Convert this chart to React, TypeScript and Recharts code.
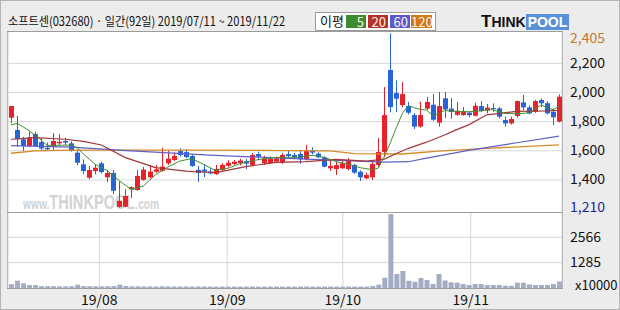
import { ComposedChart, Bar, Line, XAxis, YAxis, CartesianGrid } from "recharts";

// daily candles, 2019/07/11 ~ 2019/11/22 (92 sessions)
const OPEN = [
  1827, 1743, 1679, 1633, 1715, 1660, 1620, 1628, 1651, 1667, 1651, 1587, 1507, 1415, 1461, 1514,
  1418, 1448, 1215, 1216, 1336, 1331, 1400, 1418, 1456, 1463, 1514, 1537, 1598, 1591, 1564, 1469,
  1471, 1457, 1440, 1468, 1497, 1509, 1516, 1529, 1503, 1578, 1514, 1516, 1526, 1520, 1578, 1571,
  1578, 1542, 1600, 1581, 1554, 1480, 1475, 1480, 1475, 1503, 1456, 1411, 1418, 1503, 1592, 2154,
  1996, 1914, 1907, 1845, 1766, 1889, 1916, 1793, 1960, 1889, 1847, 1845, 1862, 1840, 1907, 1880,
  1893, 1891, 1811, 1788, 1839, 1932, 1898, 1868, 1948, 1926, 1868, 1800,
];
const HIGH = [
  1907, 1839, 1696, 1729, 1731, 1688, 1657, 1722, 1714, 1691, 1665, 1605, 1541, 1495, 1507, 1525,
  1468, 1468, 1390, 1336, 1355, 1470, 1490, 1503, 1503, 1622, 1600, 1590, 1617, 1610, 1575, 1496,
  1510, 1480, 1503, 1515, 1535, 1537, 1545, 1545, 1583, 1594, 1566, 1560, 1560, 1583, 1600, 1585,
  1600, 1640, 1623, 1590, 1562, 1537, 1525, 1530, 1551, 1510, 1465, 1450, 1523, 1688, 2038, 2405,
  2083, 2073, 1935, 1860, 1938, 1969, 1990, 2003, 2003, 1962, 1935, 1900, 1870, 1930, 1941, 1921,
  1926, 1900, 1834, 1834, 1945, 1983, 1912, 1948, 1960, 1940, 1890, 1987,
];
const LOW = [
  1790, 1628, 1600, 1626, 1626, 1604, 1600, 1598, 1640, 1640, 1595, 1502, 1439, 1405, 1439, 1445,
  1386, 1303, 1210, 1212, 1276, 1325, 1395, 1410, 1450, 1456, 1503, 1530, 1560, 1550, 1490, 1387,
  1420, 1438, 1435, 1460, 1490, 1503, 1500, 1475, 1495, 1537, 1503, 1510, 1515, 1510, 1555, 1550,
  1510, 1535, 1575, 1550, 1487, 1463, 1434, 1475, 1465, 1440, 1393, 1405, 1400, 1488, 1557, 1865,
  1866, 1898, 1850, 1750, 1760, 1880, 1805, 1765, 1825, 1820, 1840, 1840, 1830, 1836, 1865, 1857,
  1868, 1823, 1765, 1780, 1827, 1880, 1850, 1860, 1900, 1850, 1777, 1795,
];
const CLOSE = [
  1907, 1679, 1633, 1692, 1633, 1616, 1610, 1667, 1662, 1656, 1600, 1518, 1461, 1468, 1484, 1454,
  1448, 1326, 1257, 1290, 1350, 1428, 1471, 1457, 1473, 1491, 1546, 1564, 1571, 1557, 1496, 1448,
  1458, 1445, 1475, 1503, 1518, 1525, 1533, 1512, 1571, 1560, 1548, 1546, 1547, 1571, 1564, 1555,
  1542, 1598, 1587, 1555, 1491, 1496, 1502, 1514, 1537, 1450, 1418, 1434, 1509, 1592, 1845, 1900,
  1957, 1989, 1861, 1766, 1845, 1935, 1813, 1907, 1884, 1866, 1875, 1870, 1844, 1909, 1873, 1896,
  1888, 1834, 1788, 1818, 1941, 1898, 1857, 1941, 1926, 1857, 1830, 1971,
];
// volume, x10000 shares
const VOLUME = [
  200, 370, 236, 150, 150, 95, 90, 90, 85, 85, 90, 170, 95, 90, 85, 85,
  90, 95, 170, 100, 85, 85, 80, 80, 75, 85, 80, 75, 75, 75, 75, 80,
  75, 70, 70, 70, 70, 70, 70, 70, 75, 70, 70, 70, 70, 70, 70, 70,
  70, 75, 70, 70, 70, 70, 70, 70, 75, 70, 70, 70, 100, 168, 520, 3745,
  708, 860, 370, 320, 506, 405, 200, 708, 380, 287, 270, 200, 150, 200, 200, 150,
  150, 150, 118, 118, 270, 270, 180, 150, 150, 150, 200, 330,
];

// moving averages read at [session index, price]
const MA5: [number, number][] = [
  [0, 1777], [1, 1788], [2, 1765], [4, 1709], [6, 1637], [8, 1638], [10, 1639], [11, 1621],
  [12, 1579], [14, 1506], [16, 1463], [18, 1394], [20, 1334], [22, 1359], [24, 1436], [26, 1488],
  [28, 1529], [30, 1547], [32, 1506], [34, 1464], [36, 1480], [38, 1511], [40, 1532], [42, 1545],
  [44, 1554], [46, 1555], [48, 1556], [50, 1569], [52, 1555], [54, 1526], [56, 1508], [58, 1484],
  [60, 1470], [61, 1481], [62, 1560], [63, 1656], [64, 1761], [65, 1857], [66, 1910], [67, 1895],
  [68, 1884], [69, 1879], [70, 1844], [71, 1853], [72, 1877], [74, 1869], [76, 1868], [78, 1874],
  [80, 1882], [82, 1856], [84, 1854], [86, 1860], [88, 1913], [90, 1882], [91, 1905],
];
const MA20: [number, number][] = [
  [0, 1679], [4, 1690], [9, 1679], [12, 1665], [15, 1640], [19, 1553], [24, 1485], [29, 1461],
  [34, 1450], [39, 1491], [44, 1521], [49, 1526], [54, 1541], [59, 1529], [62, 1543], [64, 1581],
  [66, 1617], [69, 1659], [72, 1708], [74, 1745], [76, 1778], [79, 1847], [84, 1870], [89, 1874],
  [91, 1878],
];
const MA60: [number, number][] = [
  [0, 1635], [10, 1625], [20, 1600], [33, 1570], [48, 1545], [62, 1522], [66, 1525], [69, 1550],
  [76, 1603], [84, 1655], [91, 1700],
];
const MA120: [number, number][] = [
  [0, 1583], [4, 1600], [10, 1605], [30, 1605], [53, 1600], [57, 1580], [65, 1578], [71, 1598],
  [79, 1617], [91, 1640],
];

const MONTH_STARTS = [15, 36, 55, 76];
const MONTH_LABELS = ["19/08", "19/09", "19/10", "19/11"];
const PRICE_TICKS = [1400, 1600, 1800, 2000, 2200];
const PRICE_MAX = 2405;
const PRICE_MIN = 1210;
const VOLUME_TICKS = [1285, 2566];

const LEGEND = [
  { label: "5", color: "#3d8b2f" },
  { label: "20", color: "#b8302c" },
  { label: "60", color: "#5d57d2" },
  { label: "120", color: "#d0781a" },
];

const UP = "#e8222a";
const DOWN = "#2764d8";
const FONT = "'Noto Sans CJK KR', sans-serif";

type Row = Record<string, any>;

const rows: Row[] = CLOSE.map((close, i) => ({
  i,
  open: OPEN[i],
  high: HIGH[i],
  low: LOW[i],
  close,
  range: [LOW[i], HIGH[i]],
  vol: VOLUME[i],
  ma5: null,
  ma20: null,
  ma60: null,
  ma120: null,
}));
MA5.forEach(([i, v]) => (rows[i].ma5 = v));
MA20.forEach(([i, v]) => (rows[i].ma20 = v));
MA60.forEach(([i, v]) => (rows[i].ma60 = v));
MA120.forEach(([i, v]) => (rows[i].ma120 = v));

function Candle(props: any) {
  const { x, y, width, height, payload } = props;
  if (!payload || x == null) return null;
  const { open, high, low, close } = payload;
  const top = Math.min(y, y + height);
  const h = Math.abs(height);
  const k = high === low ? 0 : h / (high - low);
  const bodyTop = top + (high - Math.max(open, close)) * k;
  const bodyH = Math.max(1, Math.abs(close - open) * k);
  const color = close >= open ? UP : DOWN;
  const cx = Math.floor(x + width / 2);
  return (
    <g>
      <rect x={cx} y={top} width={1} height={Math.max(1, h)} fill={color} />
      <rect x={Math.round(x)} y={bodyTop} width={Math.round(width)} height={bodyH} fill={color} />
    </g>
  );
}

function PriceTick(props: any) {
  const { x, y, payload } = props;
  const v = payload.value;
  let color = "#111";
  let dy = 4.5;
  if (v === PRICE_MAX) {
    color = "#c8782c";
    dy = 9.5;
  }
  if (v === PRICE_MIN) color = "#1d2a94";
  return (
    <text x={x + 8} y={y + dy} fill={color} fontSize={14} fontFamily={FONT}>
      {v.toLocaleString("en-US")}
    </text>
  );
}

function VolumeTick(props: any) {
  const { x, y, payload } = props;
  const v = payload.value;
  return (
    <text
      x={x + (v === 0 ? 13 : 8)}
      y={y + (v === 0 ? 1.5 : 4.5)}
      fill="#111"
      fontSize={v === 0 ? 13 : 14}
      fontFamily={FONT}
    >
      {v === 0 ? "x10000" : String(v)}
    </text>
  );
}

// month labels sit just under the volume panel (chart-local baseline)
function MonthTick(props: any) {
  const { x, index } = props;
  return (
    <text x={x} y={99} textAnchor="middle" fill="#111" fontSize={14} fontFamily={FONT}>
      {MONTH_LABELS[index]}
    </text>
  );
}

export default function App() {
  return (
    <div
      style={{
        position: "absolute",
        left: 0,
        top: 0,
        width: 620,
        height: 310,
        background: "#ececec",
        boxShadow: "inset 0 0 0 1px #b4b4b4",
        overflow: "hidden",
        fontFamily: FONT,
        color: "#111",
      }}
    >
      <div
        style={{
          position: "absolute",
          left: 8,
          top: 13,
          fontSize: 12.5,
          lineHeight: "16px",
          whiteSpace: "nowrap",
          transform: "scaleX(0.89)",
          transformOrigin: "0 0",
        }}
      >
        소프트센(032680) · 일간(92일) 2019/07/11 ~ 2019/11/22
      </div>

      <div
        style={{
          position: "absolute",
          left: 315,
          top: 12,
          width: 121,
          height: 19,
          background: "#fff",
          border: "1px solid #9a9a9a",
          boxSizing: "border-box",
        }}
      />
      <div style={{ position: "absolute", left: 320, top: 13, fontSize: 13, lineHeight: "16px" }}>이평</div>
      {LEGEND.map((item, n) => (
        <div
          key={item.label}
          style={{
            position: "absolute",
            left: [346, 368, 390, 411][n],
            top: 15,
            width: [20, 20, 20, 21][n],
            height: 13,
            background: item.color,
            color: "#fff8e0",
            fontSize: 13,
            lineHeight: "13px",
            textAlign: "right",
            paddingRight: 2,
            boxSizing: "border-box",
          }}
        >
          {item.label}
        </div>
      ))}

      <div style={{ position: "absolute", left: 481, top: 12, whiteSpace: "nowrap", fontFamily: "'Liberation Sans', sans-serif", fontWeight: 900 }}>
        <span style={{ fontSize: 17, color: "#111" }}>T</span>
        <span style={{ fontSize: 14, color: "#111" }}>HINK</span>
        <span style={{ fontSize: 14, color: "#fff", background: "#5a8fd9", padding: "0 2px" }}>POOL</span>
      </div>

      <div
        style={{
          position: "absolute",
          left: 7,
          top: 31,
          width: 556,
          height: 258,
          background: "#fff",
          border: "1px solid #9c9c9c",
          boxSizing: "border-box",
        }}
      />
      <div
        style={{
          position: "absolute",
          left: 23,
          top: 191,
          whiteSpace: "nowrap",
          color: "#d2d2d2",
          fontFamily: "'Liberation Sans', sans-serif",
          fontWeight: 700,
          transform: "scaleX(0.73)",
          transformOrigin: "0 0",
        }}
      >
        <span style={{ fontSize: 14 }}>www.</span>
        <span style={{ fontSize: 20 }}>THINKPOOL</span>
        <span style={{ fontSize: 14 }}>.com</span>
      </div>

      <div style={{ position: "absolute", left: 0, top: 0 }}>
        <ComposedChart width={620} height={215} data={rows} margin={{ top: 32, right: 0, bottom: 3, left: 8 }}>
          <CartesianGrid xAxisId="g" stroke="#d6d6d6" horizontalValues={PRICE_TICKS} />
          <XAxis dataKey="i" hide />
          <XAxis
            xAxisId="g"
            type="number"
            domain={[0, 92]}
            allowDataOverflow
            ticks={MONTH_STARTS}
            height={0}
            tick={false}
            axisLine={false}
            tickLine={false}
          />
          <YAxis
            orientation="right"
            width={58}
            type="number"
            domain={[1180, 2415]}
            allowDataOverflow
            ticks={[PRICE_MIN, ...PRICE_TICKS, PRICE_MAX]}
            interval={0}
            tick={<PriceTick />}
            tickSize={0}
            tickMargin={0}
            axisLine={false}
            tickLine={false}
          />
          <Line dataKey="ma120" stroke="#d68a2a" strokeWidth={1.3} dot={false} connectNulls isAnimationActive={false} />
          <Line dataKey="ma60" stroke="#6060c8" strokeWidth={1.2} dot={false} connectNulls isAnimationActive={false} />
          <Line dataKey="ma20" stroke="#a23838" strokeWidth={1.2} dot={false} connectNulls isAnimationActive={false} />
          <Line dataKey="ma5" stroke="#3f8f2f" strokeWidth={1} dot={false} connectNulls isAnimationActive={false} />
          <Bar dataKey="range" barSize={5} shape={<Candle />} isAnimationActive={false} />
        </ComposedChart>
      </div>

      <div style={{ position: "absolute", left: 0, top: 206 }}>
        <ComposedChart width={620} height={104} data={rows} margin={{ top: 7, right: 0, bottom: 0, left: 8 }}>
          <CartesianGrid xAxisId="g" stroke="#d6d6d6" horizontalValues={VOLUME_TICKS} />
          <XAxis dataKey="i" hide />
          <XAxis
            xAxisId="g"
            type="number"
            domain={[0, 92]}
            allowDataOverflow
            ticks={MONTH_STARTS}
            height={22}
            tick={<MonthTick />}
            tickSize={0}
            tickMargin={0}
            axisLine={false}
            tickLine={false}
            interval={0}
          />
          <YAxis
            orientation="right"
            width={58}
            type="number"
            domain={[0, 3800]}
            allowDataOverflow
            ticks={[0, ...VOLUME_TICKS]}
            interval={0}
            tick={<VolumeTick />}
            tickSize={0}
            tickMargin={0}
            axisLine={false}
            tickLine={false}
          />
          <Bar dataKey="vol" barSize={5} fill="#a4acc4" isAnimationActive={false} />
        </ComposedChart>
      </div>

      <div style={{ position: "absolute", left: 7, top: 212, width: 556, height: 1, background: "#9c9c9c" }} />
    </div>
  );
}
